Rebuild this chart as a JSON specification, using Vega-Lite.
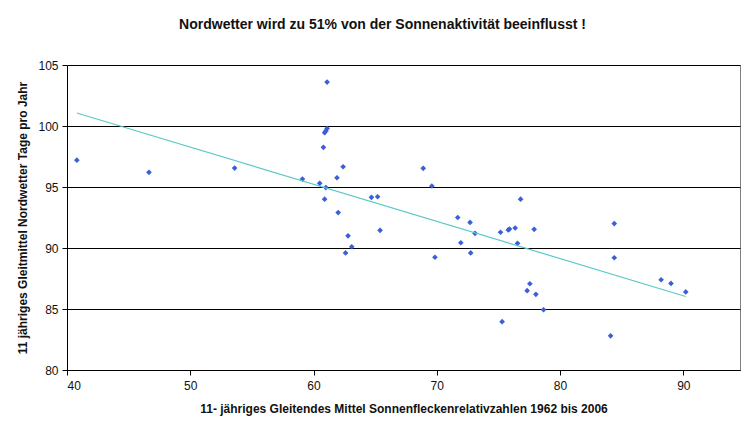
{
  "$schema": "https://vega.github.io/schema/vega-lite/v6.json",
  "width": 673,
  "height": 305,
  "autosize": {"type": "none"},
  "padding": {"left": 67, "top": 65, "right": 7, "bottom": 60},
  "background": "white",
  "title": {
    "text": "Nordwetter wird zu 51%  von der Sonnenaktivität beeinflusst !",
    "font": "Liberation Sans",
    "fontSize": 14,
    "fontWeight": "bold",
    "color": "#111111",
    "anchor": "middle",
    "dx": -21,
    "offset": 27
  },
  "config": {
    "view": {"stroke": "#808080", "strokeWidth": 1},
    "axis": {
      "labelFont": "Liberation Sans",
      "labelFontSize": 12,
      "labelColor": "#111111",
      "titleFont": "Liberation Sans",
      "titleFontSize": 12,
      "titleFontWeight": "bold",
      "titleColor": "#111111",
      "domainColor": "#000000",
      "tickColor": "#000000",
      "tickSize": 5,
      "gridColor": "#000000",
      "gridOpacity": 1,
      "gridWidth": 1
    }
  },
  "data": {
    "values": [
      {"sonnenflecken": 40.8, "nordwetter": 97.2},
      {"sonnenflecken": 46.65, "nordwetter": 96.2},
      {"sonnenflecken": 53.6, "nordwetter": 96.55},
      {"sonnenflecken": 59.1, "nordwetter": 95.65},
      {"sonnenflecken": 60.5, "nordwetter": 95.3},
      {"sonnenflecken": 61.1, "nordwetter": 103.6},
      {"sonnenflecken": 61.1, "nordwetter": 99.8},
      {"sonnenflecken": 61.0, "nordwetter": 99.6},
      {"sonnenflecken": 60.9, "nordwetter": 99.45},
      {"sonnenflecken": 60.8, "nordwetter": 98.25},
      {"sonnenflecken": 61.0, "nordwetter": 94.95},
      {"sonnenflecken": 60.9, "nordwetter": 94.0},
      {"sonnenflecken": 61.9, "nordwetter": 95.76},
      {"sonnenflecken": 62.4, "nordwetter": 96.66},
      {"sonnenflecken": 62.0, "nordwetter": 92.9},
      {"sonnenflecken": 62.8, "nordwetter": 91.0},
      {"sonnenflecken": 63.1, "nordwetter": 90.1},
      {"sonnenflecken": 62.6, "nordwetter": 89.6},
      {"sonnenflecken": 64.7, "nordwetter": 94.15},
      {"sonnenflecken": 65.2, "nordwetter": 94.2},
      {"sonnenflecken": 65.4, "nordwetter": 91.45},
      {"sonnenflecken": 68.9, "nordwetter": 96.53},
      {"sonnenflecken": 69.6, "nordwetter": 95.08},
      {"sonnenflecken": 69.85, "nordwetter": 89.24},
      {"sonnenflecken": 71.7, "nordwetter": 92.5},
      {"sonnenflecken": 72.7, "nordwetter": 92.1},
      {"sonnenflecken": 73.1, "nordwetter": 91.2},
      {"sonnenflecken": 71.95, "nordwetter": 90.43},
      {"sonnenflecken": 72.75, "nordwetter": 89.6},
      {"sonnenflecken": 75.17, "nordwetter": 91.29},
      {"sonnenflecken": 75.8, "nordwetter": 91.48},
      {"sonnenflecken": 75.9, "nordwetter": 91.56},
      {"sonnenflecken": 76.36, "nordwetter": 91.64},
      {"sonnenflecken": 76.8, "nordwetter": 94.0},
      {"sonnenflecken": 76.55, "nordwetter": 90.38},
      {"sonnenflecken": 77.9, "nordwetter": 91.53},
      {"sonnenflecken": 77.55, "nordwetter": 87.07},
      {"sonnenflecken": 77.33, "nordwetter": 86.5},
      {"sonnenflecken": 78.04, "nordwetter": 86.2},
      {"sonnenflecken": 78.66, "nordwetter": 84.94},
      {"sonnenflecken": 75.3, "nordwetter": 83.96},
      {"sonnenflecken": 84.4, "nordwetter": 92.0},
      {"sonnenflecken": 84.4, "nordwetter": 89.2},
      {"sonnenflecken": 88.2, "nordwetter": 87.4},
      {"sonnenflecken": 89.0, "nordwetter": 87.1},
      {"sonnenflecken": 90.2, "nordwetter": 86.4},
      {"sonnenflecken": 84.1, "nordwetter": 82.8}
    ]
  },
  "layer": [
    {
      "mark": {"type": "point", "shape": "diamond", "filled": true, "size": 32, "color": "#3a5fd9", "opacity": 1},
      "encoding": {
        "x": {
          "field": "sonnenflecken", "type": "quantitative",
          "scale": {"domain": [40, 94.6], "nice": false, "zero": false},
          "axis": {
            "values": [40, 50, 60, 70, 80, 90],
            "grid": false,
            "labelPadding": 5,
            "titlePadding": 12,
            "title": "11- jähriges Gleitendes Mittel Sonnenfleckenrelativzahlen 1962 bis 2006"
          }
        },
        "y": {
          "field": "nordwetter", "type": "quantitative",
          "scale": {"domain": [80, 105], "nice": false, "zero": false},
          "axis": {
            "values": [80, 85, 90, 95, 100, 105],
            "grid": true,
            "labelPadding": 4,
            "titlePadding": 8,
            "title": "11 jähriges Gleitmittel Nordwetter Tage pro  Jahr"
          }
        }
      }
    },
    {
      "transform": [{"regression": "nordwetter", "on": "sonnenflecken"}],
      "mark": {"type": "line", "color": "#5cc8c8", "strokeWidth": 1.2},
      "encoding": {
        "x": {"field": "sonnenflecken", "type": "quantitative"},
        "y": {"field": "nordwetter", "type": "quantitative"}
      }
    }
  ]
}
